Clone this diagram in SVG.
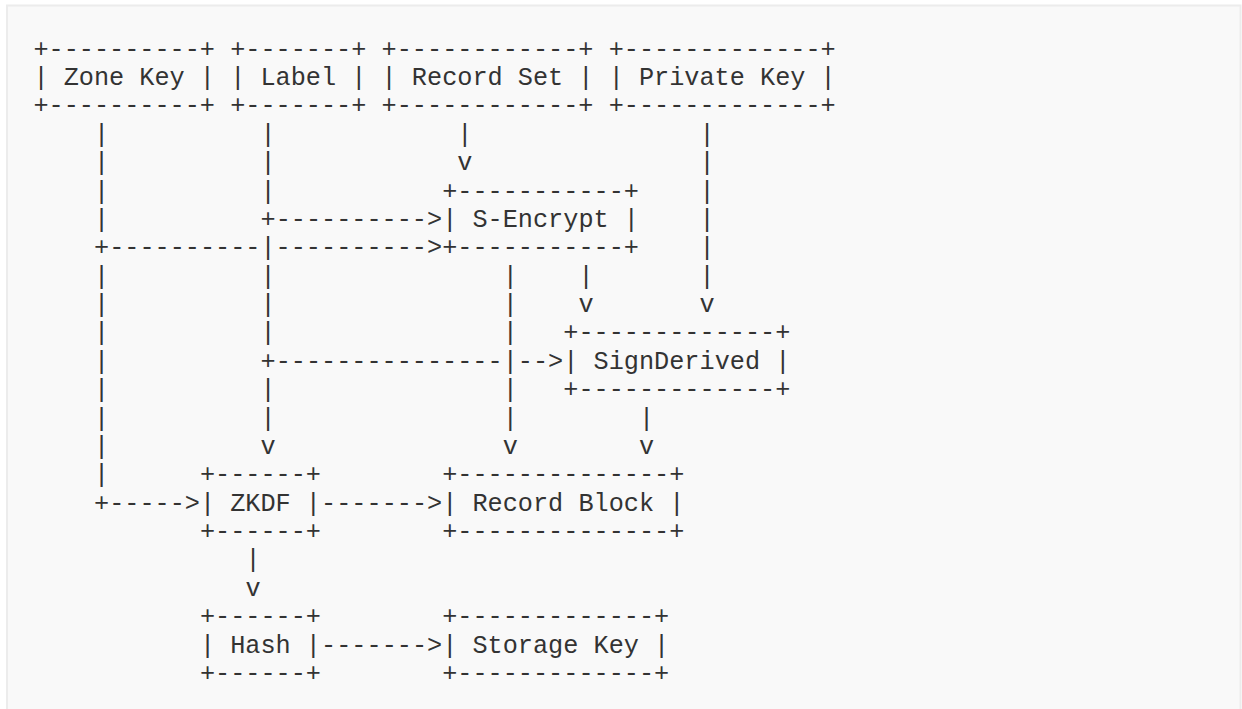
<svg xmlns="http://www.w3.org/2000/svg" width="1242" height="709" viewBox="0 0 1242 709">
<style>
text{font-family:"Liberation Mono","DejaVu Sans Mono",monospace;font-size:25.23px;fill:#333;white-space:pre}
</style>
<rect x="0" y="0" width="1242" height="709" fill="#ffffff"/>
<rect x="7" y="5.5" width="1233.5" height="720" fill="#f9f9f9" stroke="#ececec" stroke-width="2"/>
<g id="zone-key">
<text x="33.4" y="56.6">+----------+</text>
<text x="33.4" y="85">| Zone Key |</text>
<text x="33.4" y="113.4">+----------+</text>
</g>
<g id="label">
<text x="230.2" y="56.6">+-------+</text>
<text x="230.2" y="85">| Label |</text>
<text x="230.2" y="113.4">+-------+</text>
</g>
<g id="record-set">
<text x="381.6" y="56.6">+------------+</text>
<text x="381.6" y="85">| Record Set |</text>
<text x="381.6" y="113.4">+------------+</text>
</g>
<g id="private-key">
<text x="608.7" y="56.6">+-------------+</text>
<text x="608.7" y="85">| Private Key |</text>
<text x="608.7" y="113.4">+-------------+</text>
</g>
<g id="s-encrypt">
<text x="442.2" y="198.5">+-----------+</text>
<text x="442.2" y="226.9">| S-Encrypt |</text>
<text x="442.2" y="255.2">+-----------+</text>
</g>
<g id="sign-derived">
<text x="563.3" y="340.4">+-------------+</text>
<text x="563.3" y="368.7">| SignDerived |</text>
<text x="563.3" y="397.1">+-------------+</text>
</g>
<g id="zkdf">
<text x="199.9" y="482.2">+------+</text>
<text x="199.9" y="510.6">| ZKDF |</text>
<text x="199.9" y="539">+------+</text>
</g>
<g id="record-block">
<text x="442.2" y="482.2">+--------------+</text>
<text x="442.2" y="510.6">| Record Block |</text>
<text x="442.2" y="539">+--------------+</text>
</g>
<g id="hash">
<text x="199.9" y="624.1">+------+</text>
<text x="199.9" y="652.5">| Hash |</text>
<text x="199.9" y="680.9">+------+</text>
</g>
<g id="storage-key">
<text x="442.2" y="624.1">+-------------+</text>
<text x="442.2" y="652.5">| Storage Key |</text>
<text x="442.2" y="680.9">+-------------+</text>
</g>
<g id="connectors">
<!-- row 3 -->
<text x="94" y="141.7">|</text><text x="260.5" y="141.7">|</text><text x="457.3" y="141.7">|</text><text x="699.6" y="141.7">|</text>
<!-- row 4 -->
<text x="94" y="170.1">|</text><text x="260.5" y="170.1">|</text><text x="457.3" y="170.1">v</text><text x="699.6" y="170.1">|</text>
<!-- row 5 -->
<text x="94" y="198.5">|</text><text x="260.5" y="198.5">|</text><text x="699.6" y="198.5">|</text>
<!-- row 6 -->
<text x="94" y="226.9">|</text><text x="260.5" y="226.9">+----------&gt;</text><text x="699.6" y="226.9">|</text>
<!-- row 7 -->
<text x="94" y="255.2">+----------|----------&gt;</text><text x="699.6" y="255.2">|</text>
<!-- row 8 -->
<text x="94" y="283.6">|</text><text x="260.5" y="283.6">|</text><text x="502.7" y="283.6">|</text><text x="578.4" y="283.6">|</text><text x="699.6" y="283.6">|</text>
<!-- row 9 -->
<text x="94" y="312">|</text><text x="260.5" y="312">|</text><text x="502.7" y="312">|</text><text x="578.4" y="312">v</text><text x="699.6" y="312">v</text>
<!-- row 10 -->
<text x="94" y="340.4">|</text><text x="260.5" y="340.4">|</text><text x="502.7" y="340.4">|</text>
<!-- row 11 -->
<text x="94" y="368.7">|</text><text x="260.5" y="368.7">+---------------|--&gt;</text>
<!-- row 12 -->
<text x="94" y="397.1">|</text><text x="260.5" y="397.1">|</text><text x="502.7" y="397.1">|</text>
<!-- row 13 -->
<text x="94" y="425.5">|</text><text x="260.5" y="425.5">|</text><text x="502.7" y="425.5">|</text><text x="639" y="425.5">|</text>
<!-- row 14 -->
<text x="94" y="453.9">|</text><text x="260.5" y="453.9">v</text><text x="502.7" y="453.9">v</text><text x="639" y="453.9">v</text>
<!-- row 15 -->
<text x="94" y="482.2">|</text>
<!-- row 16 -->
<text x="94" y="510.6">+-----&gt;</text><text x="321.1" y="510.6">-------&gt;</text>
<!-- row 18-19 -->
<text x="245.4" y="567.4">|</text>
<text x="245.4" y="595.7">v</text>
<!-- row 21 -->
<text x="321.1" y="652.5">-------&gt;</text>
</g>
</svg>
